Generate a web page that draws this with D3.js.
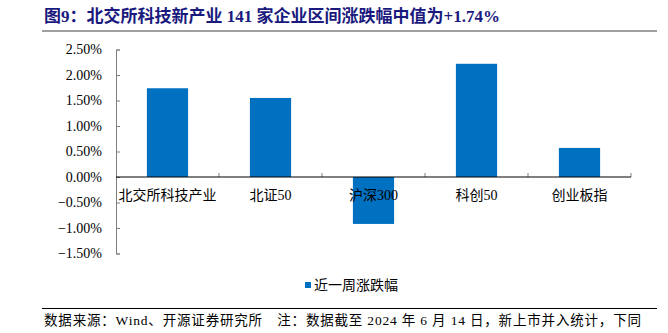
<!DOCTYPE html>
<html>
<head>
<meta charset="utf-8">
<script src="https://cdn.jsdelivr.net/npm/d3@7"></script>
<style>
  html, body { margin: 0; padding: 0; background: #fff; }
  svg { display: block; }
  text { font-family: "Liberation Serif", "Noto Sans CJK SC", serif; }
</style>
</head>
<body>
<svg id="chart" width="668" height="333"></svg>
<script>
// Weekly price change of each index (%)
const categories = ["北交所科技产业", "北证50", "沪深300", "科创50", "创业板指"];
const weeklyChange = [1.74, 1.55, -0.92, 2.22, 0.57];
const yTicks = [2.5, 2.0, 1.5, 1.0, 0.5, 0.0, -0.5, -1.0, -1.5];
const titleText = "图9：北交所科技新产业 141 家企业区间涨跌幅中值为+1.74%";
const legendLabel = "近一周涨跌幅";
const sourceText = "数据来源：Wind、开源证券研究所\u3000注：数据截至 2024 年 6 月 14 日，新上市并入统计，下同";

const svg = d3.select("#chart");
const plot = { left: 116, right: 631, top: 49.5, bottom: 253.5 };
const barColor = "#0070C0";

// Title and rule under it
svg.append("text")
  .attr("x", 44).attr("y", 22)
  .attr("font-size", 17).attr("font-weight", "bold")
  .attr("fill", "#1a1a7e")
  .text(titleText);
svg.append("line")
  .attr("x1", 42).attr("x2", 657).attr("y1", 31).attr("y2", 31)
  .attr("stroke", "#7f7f7f").attr("stroke-width", 1.6);

// Scales
const x = d3.scaleBand()
  .domain(categories)
  .range([plot.left, plot.right])
  .paddingInner(0.6).paddingOuter(0.3);
const xBand = d3.scaleBand().domain(categories).range([plot.left, plot.right]);
const y = d3.scaleLinear().domain([-1.5, 2.5]).range([plot.bottom, plot.top]);

// Y axis with ticks pointing into the plot
const yAxis = d3.axisRight(y)
  .tickValues(yTicks)
  .tickSize(4)
  .tickFormat("");
const yG = svg.append("g").attr("transform", `translate(${plot.left},0)`).call(yAxis);
yG.select(".domain").attr("stroke", "#7f7f7f").attr("stroke-width", 1);
yG.selectAll(".tick line").attr("stroke", "#7f7f7f");

// Y tick labels
svg.append("g").selectAll("text")
  .data(yTicks)
  .join("text")
  .attr("x", 102)
  .attr("y", d => y(d))
  .attr("dy", "0.35em")
  .attr("text-anchor", "end")
  .attr("font-size", 14)
  .attr("fill", "#000")
  .text(d => d3.format(".2f")(d) + "%");

// Bars
svg.append("g").selectAll("rect")
  .data(categories.map((c, i) => ({ c, v: weeklyChange[i] })))
  .join("rect")
  .attr("x", d => x(d.c))
  .attr("width", x.bandwidth())
  .attr("y", d => y(Math.max(0, d.v)))
  .attr("height", d => Math.abs(y(d.v) - y(0)))
  .attr("fill", barColor);

// Category axis along the zero line, ticks at band boundaries
const zeroY = y(0);
const boundaries = categories.map(c => xBand(c) + xBand.bandwidth());
svg.append("g").selectAll("line")
  .data(boundaries)
  .join("line")
  .attr("x1", d => d).attr("x2", d => d)
  .attr("y1", zeroY).attr("y2", zeroY - 4)
  .attr("stroke", "#7f7f7f");
svg.append("line")
  .attr("x1", plot.left).attr("x2", plot.right)
  .attr("y1", zeroY).attr("y2", zeroY)
  .attr("stroke", "#000").attr("stroke-width", 1.2);

// Category labels below the zero line
svg.append("g").selectAll("text")
  .data(categories)
  .join("text")
  .attr("x", d => xBand(d) + xBand.bandwidth() / 2)
  .attr("y", 200)
  .attr("text-anchor", "middle")
  .attr("font-size", 14)
  .attr("fill", "#000")
  .text(d => d);

// Legend
const lg = svg.append("g");
lg.append("rect")
  .attr("x", 305).attr("y", 282).attr("width", 6).attr("height", 6)
  .attr("fill", barColor);
lg.append("text")
  .attr("x", 314).attr("y", 285).attr("dy", "0.35em")
  .attr("font-size", 14).attr("fill", "#000")
  .text(legendLabel);

// Source note
svg.append("line")
  .attr("x1", 42).attr("x2", 657).attr("y1", 308.5).attr("y2", 308.5)
  .attr("stroke", "#000").attr("stroke-width", 1);
svg.append("text")
  .attr("x", 44).attr("y", 325)
  .attr("font-size", 13.5).attr("fill", "#000")
  .attr("textLength", 597).attr("lengthAdjust", "spacing")
  .text(sourceText);
</script>
</body>
</html>
